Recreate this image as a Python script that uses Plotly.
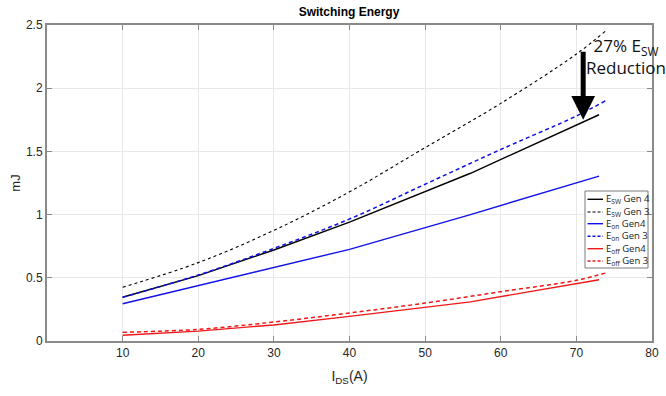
import plotly.graph_objects as go

# ---- data ----
x_gen4 = [10, 20, 30, 40, 56, 73]
esw_gen4 = [0.346, 0.517, 0.72, 0.94, 1.327, 1.79]
eon_gen4 = [0.295, 0.437, 0.583, 0.725, 1.0, 1.305]
eoff_gen4 = [0.045, 0.078, 0.127, 0.195, 0.31, 0.485]

x_gen3 = [10, 20, 30, 40, 50, 60, 70, 74]
esw_gen3 = [0.425, 0.62, 0.875, 1.18, 1.53, 1.88, 2.27, 2.46]
eon_gen3 = [0.346, 0.522, 0.733, 0.965, 1.24, 1.515, 1.78, 1.905]
eoff_gen3 = [0.069, 0.092, 0.15, 0.222, 0.30, 0.39, 0.48, 0.54]

series_names = ["E<sub>SW</sub> Gen 4", "E<sub>SW</sub> Gen 3", "E<sub>on</sub> Gen4",
                "E<sub>on</sub> Gen 3", "E<sub>off</sub> Gen4", "E<sub>off</sub> Gen 3"]
x_ticks = [10, 20, 30, 40, 50, 60, 70, 80]
y_ticks = [0, 0.5, 1, 1.5, 2, 2.5]
y_tick_labels = ["0", "0.5", "1", "1.5", "2", "2.5"]
arrow_x = 70.9
arrow_from = 2.30
arrow_to = 1.75
title_text = "Switching Energy"
annot_text = "27% E<sub>SW</sub><br>Reduction"

BLACK = "#000000"
BLUE = "#1010e8"
RED = "#f01818"

styles = [
    (x_gen4, esw_gen4, BLACK, "solid", 1.4, "linear"),
    (x_gen3, esw_gen3, BLACK, "3px,3px", 1.1, "spline"),
    (x_gen4, eon_gen4, BLUE, "solid", 1.4, "linear"),
    (x_gen3, eon_gen3, BLUE, "4px,3px", 1.5, "spline"),
    (x_gen4, eoff_gen4, RED, "solid", 1.4, "linear"),
    (x_gen3, eoff_gen3, RED, "4px,3px", 1.5, "spline"),
]

fig = go.Figure()
for (xs, ys, c, d, w, sh), name in zip(styles, series_names):
    fig.add_trace(go.Scatter(x=xs, y=ys, mode="lines", name=name,
                             line=dict(color=c, dash=d, width=w, shape=sh),
                             showlegend=False))

AX = "#8a8a8a"
fig.update_layout(
    width=666, height=396,
    margin=dict(l=47, r=14, t=25, b=55),
    paper_bgcolor="white", plot_bgcolor="white",
    font=dict(family="Liberation Sans, Arial, sans-serif", size=12, color="#262626"),
    title=dict(text="<b>" + title_text + "</b>", x=0.524, xanchor="center",
               y=1 - 12 / 396, yanchor="middle", yref="container",
               font=dict(size=12, color="#000000")),
    xaxis=dict(range=[0, 80], tickvals=x_ticks, showgrid=True, gridcolor="#e8e8e8",
               zeroline=False, showline=True, linecolor=AX, linewidth=2, mirror="ticks",
               ticks="inside", ticklen=5, tickcolor=AX, tickwidth=1, automargin=False,
               title=dict(text="I<sub>DS</sub>(A)", font=dict(size=14, color="#262626"), standoff=12)),
    yaxis=dict(range=[0, 2.5], tickvals=y_ticks, ticktext=y_tick_labels, showgrid=True,
               gridcolor="#e8e8e8", zeroline=False, showline=True, linecolor=AX, linewidth=2,
               mirror="ticks", ticks="inside", ticklen=5, tickcolor=AX, tickwidth=1,
               automargin=False,
               title=dict(text="mJ", font=dict(size=13, color="#262626"), standoff=2)),
)

# arrow
fig.add_annotation(x=arrow_x, y=arrow_to, ax=arrow_x, ay=arrow_from, xref="x", yref="y",
                   axref="x", ayref="y", showarrow=True, arrowhead=2, arrowsize=0.95,
                   arrowwidth=5, arrowcolor="black", text="")
fig.add_annotation(x=76.5, y=2.25, xref="x", yref="y", text=annot_text, showarrow=False,
                   font=dict(family="Open Sans, sans-serif", size=17, color="#111111"),
                   align="center", xanchor="center", yanchor="middle")

# custom legend (MATLAB style)
lx0, lx1 = 585, 648
ly0, ly1 = 191, 268
def px(xp):
    return (xp - 47) / 605
def py(yp):
    return (341 - yp) / 316
fig.add_shape(type="rect", xref="paper", yref="paper", x0=px(lx0), x1=px(lx1),
              y0=py(ly1), y1=py(ly0), line=dict(color="#7a7a7a", width=1), fillcolor="white",
              layer="above")
rows = [199.3, 212, 223.7, 236.3, 248.7, 261]
for (xs, ys, c, d, w, sh), name, ry in zip(styles, series_names, rows):
    fig.add_shape(type="line", xref="paper", yref="paper", x0=px(587.5), x1=px(603),
                  y0=py(ry), y1=py(ry), line=dict(color=c, dash=d if d == "solid" else "3px,2px", width=w),
                  layer="above")
    fig.add_annotation(x=px(603.5), y=py(ry), xref="paper", yref="paper", text=name,
                       showarrow=False, xanchor="left", yanchor="middle",
                       font=dict(family="Open Sans, sans-serif", size=9.5, color="#222222"))

fig.write_html("out.html", config={"displayModeBar": False},
               post_script="document.body.style.margin='0';document.body.style.overflow='hidden';")
